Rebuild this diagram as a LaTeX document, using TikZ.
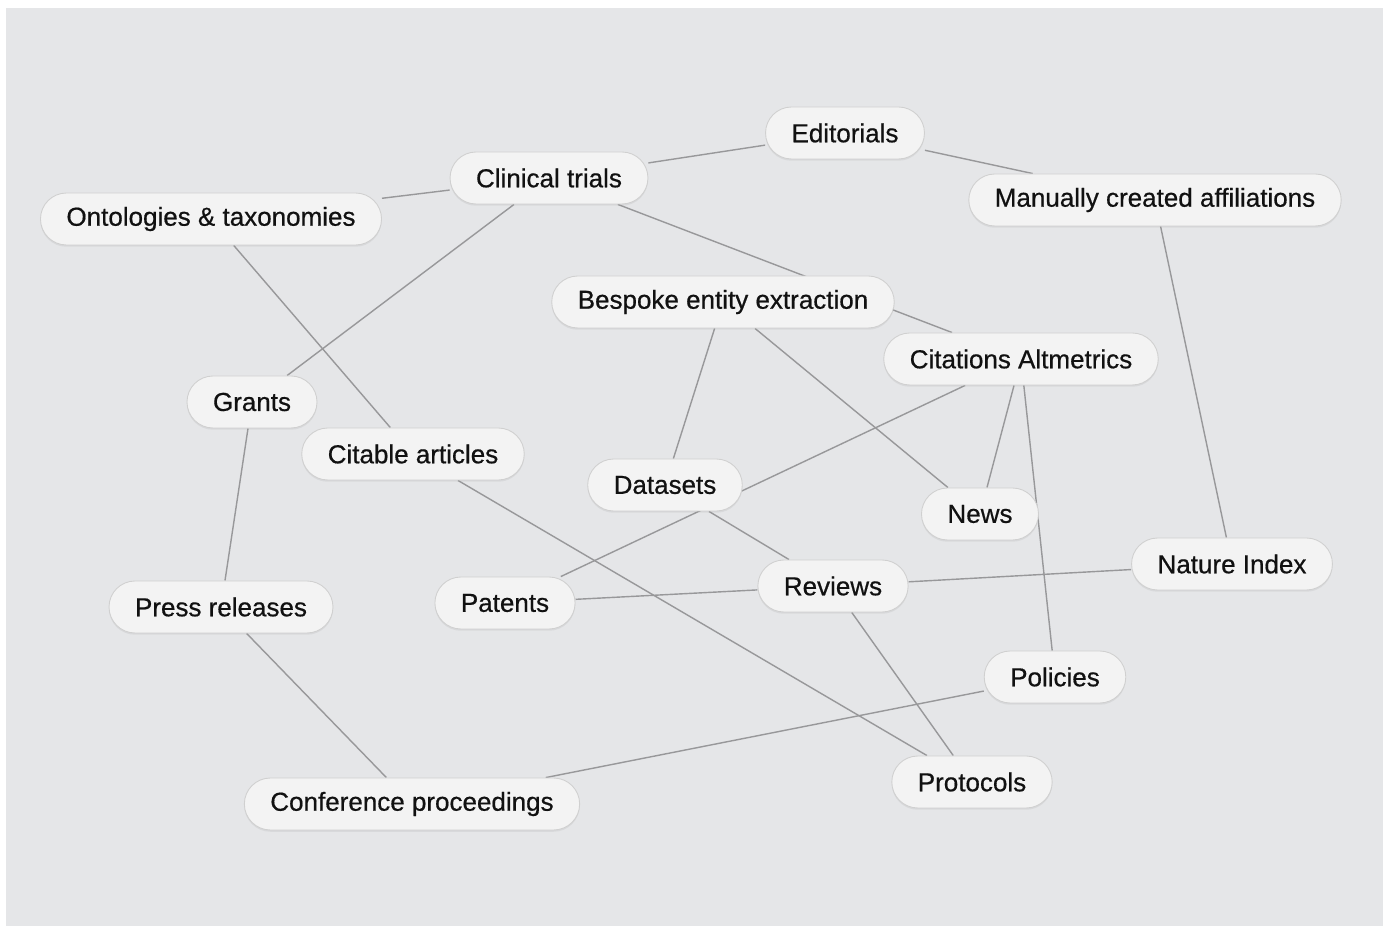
\documentclass[tikz,border=0pt]{standalone}
\usepackage{xcolor}
\usepackage{fontspec}
\setmainfont{Liberation Sans}
\newfontfamily\pillfont[FakeBold=0.6]{Liberation Sans}
\usepackage{tikz}
\usetikzlibrary{
    backgrounds,
    shadows
}
\definecolor{bggray}{RGB}{229,230,232}
\definecolor{pillfill}{RGB}{243,243,243}
\definecolor{pillline}{RGB}{208,208,208}
\definecolor{linkgray}{RGB}{152,152,154}
\definecolor{inkblack}{RGB}{17,17,17}

\begin{document}
\begin{tikzpicture}[x=0.02cm,y=-0.02cm,
    pill/.style={draw=pillline, fill=pillfill, line width=0.5pt,
                 rounded corners=0.52cm, minimum height=1.04cm,
                 inner xsep=0.52cm, text=inkblack,
                 font=\pillfont\fontsize{14.8}{17}\selectfont,
                 drop shadow={opacity=0.12, shadow xshift=0pt, shadow yshift=-1pt}},
    link/.style={draw=linkgray, line width=0.8pt}]
  \useasboundingbox (0,0) rectangle (1387,928);
  % topics
  \node[pill] (edit) at (845,133)  {Editorials};
  \node[pill] (clin) at (549,178)  {Clinical trials};
  \node[pill] (manu) at (1155,200) {Manually created affiliations};
  \node[pill] (onto) at (211,219)  {Ontologies \& taxonomies};
  \node[pill] (besp) at (723,302)  {Bespoke entity extraction};
  \node[pill] (cita) at (1021,359) {Citations Altmetrics};
  \node[pill] (gran) at (252,402)  {Grants};
  \node[pill] (ctab) at (413,454)  {Citable articles};
  \node[pill] (data) at (665,485)  {Datasets};
  \node[pill] (news) at (980,514)  {News};
  \node[pill] (natu) at (1232,564) {Nature Index};
  \node[pill] (pres) at (221,607)  {Press releases};
  \node[pill] (pate) at (505,603)  {Patents};
  \node[pill] (revi) at (833,586)  {Reviews};
  \node[pill] (poli) at (1055,677) {Policies};
  \node[pill] (prot) at (972,782)  {Protocols};
  \node[pill] (conf) at (412,804)  {Conference proceedings};
  % links behind the pills
  \begin{scope}[on background layer]
    \fill[white] (0,0) rectangle (1387,928);
    \fill[bggray] (6,8) rectangle (1383,926);
    \foreach \a/\b in {edit/clin,edit/manu,clin/onto,clin/gran,clin/cita,
                       onto/ctab,manu/natu,besp/data,besp/news,cita/pate,
                       cita/news,cita/poli,gran/pres,ctab/prot,data/revi,
                       revi/pate,revi/natu,revi/prot,pres/conf,poli/conf}
       {\draw[link] (\a) -- (\b);}
  \end{scope}
\end{tikzpicture}
\end{document}
